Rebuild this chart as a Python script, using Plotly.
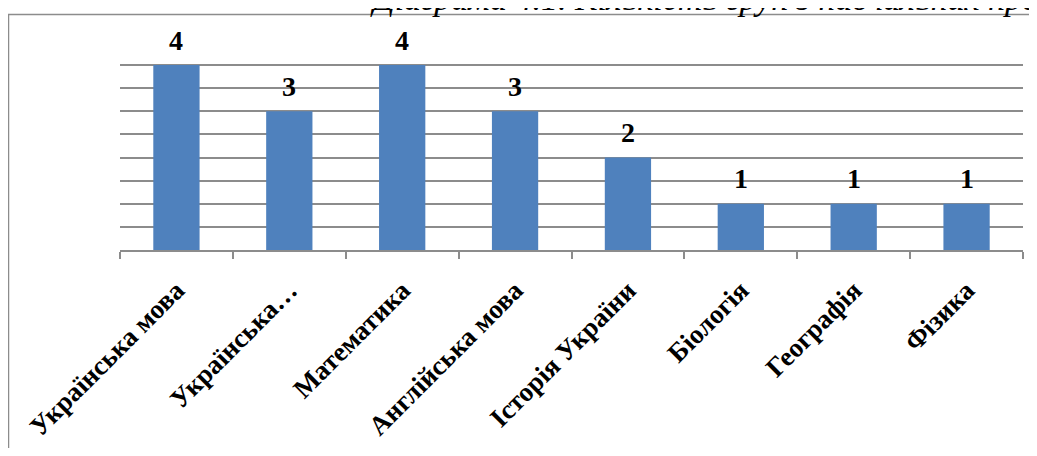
import plotly.graph_objects as go

categories = ["Українська мова", "Українська…", "Математика", "Англійська мова",
              "Історія України", "Біологія", "Географія", "Фізика"]
values = [4, 3, 4, 3, 2, 1, 1, 1]
title_text = "Діаграма 4.1. Кількість груп з навчальних предметів"

# page body has an 8px default margin; work in screen pixels and shift
OFF = 8
W, H = 1037 - 2 * OFF, 456 - 2 * OFF
L = 120 - OFF
R = W - (1023 - OFF)
T = 42 - OFF
B = H - (262 - OFF)
pw, ph = W - L - R, H - T - B

def px_x(p):  # screen px -> paper
    return (p - OFF - L) / pw

def px_y(p):
    return (H - B - (p - OFF)) / ph

fig = go.Figure()
fig.add_trace(go.Bar(
    x=categories, y=values,
    marker=dict(color="#4F81BD", line=dict(width=0)),
    width=0.41,
    hoverinfo="skip",
))

for c, v in zip(categories, values):
    fig.add_annotation(x=c, y=v, xref="x", yref="y", text=f"<b>{v}</b>",
                       showarrow=False, yanchor="middle", yshift=25,
                       font=dict(family="Liberation Serif", size=28, color="#000000"))

fig.add_annotation(xref="paper", yref="paper", x=px_x(368), y=px_y(18),
                   xanchor="left", yanchor="bottom", text=f"<i>{title_text}</i>",
                   showarrow=False,
                   font=dict(family="Liberation Serif", size=34, color="#000000"))

fig.add_shape(type="rect", xref="paper", yref="paper",
              x0=px_x(8.5), x1=px_x(1100), y0=px_y(13), y1=px_y(520),
              line=dict(color="#8c8c8c", width=1.5), fillcolor="rgba(0,0,0,0)",
              layer="below")

fig.update_layout(
    width=W, height=H,
    margin=dict(l=L, r=R, t=T, b=B, pad=0),
    paper_bgcolor="white", plot_bgcolor="white",
    showlegend=False,
    xaxis=dict(showgrid=False, showline=True, linecolor="#8c8c8c", linewidth=1.5,
               ticks="outside", tickson="boundaries", ticklen=7, tickcolor="#8c8c8c",
               tickwidth=1.5, tickangle=-45,
               tickfont=dict(family="Liberation Serif", size=27, color="#000000"),
               ticklabelstandoff=12),
    yaxis=dict(range=[0, 4.5], dtick=0.5, showticklabels=False, showgrid=True,
               gridcolor="#8c8c8c", gridwidth=1.5, zeroline=False, showline=False,
               fixedrange=True),
)

fig.update_xaxes(tickprefix="<b>", ticksuffix="</b>")

fig.write_html("out.html")
